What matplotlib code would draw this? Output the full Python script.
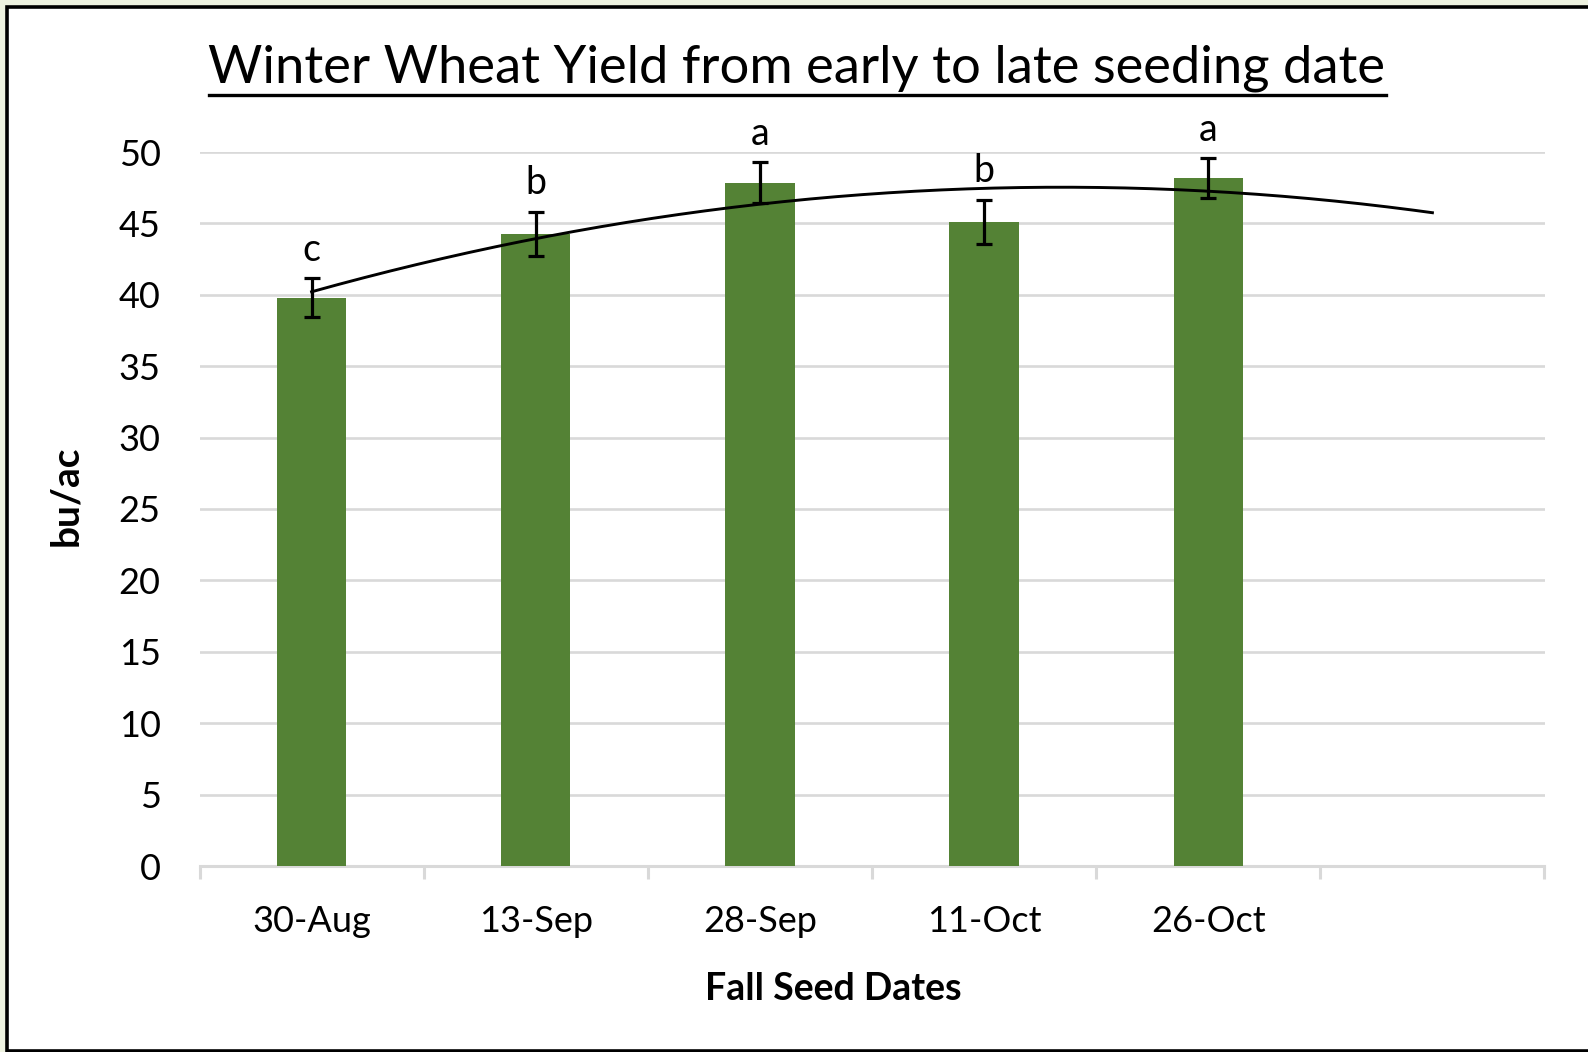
import numpy as np
import matplotlib
matplotlib.use("Agg")
import matplotlib.pyplot as plt
from matplotlib.patches import Rectangle
from matplotlib.lines import Line2D

# ---- data ----
categories = ["30-Aug", "13-Sep", "28-Sep", "11-Oct", "26-Oct", ""]
yields = [39.8, 44.25, 47.86, 45.12, 48.17]
errors = [1.37, 1.56, 1.43, 1.53, 1.40]
letters = ["c", "b", "a", "b", "a"]
y_ticks = [0, 5, 10, 15, 20, 25, 30, 35, 40, 45, 50]

FONT = "Lato"
GRID = "#d9d9d9"
BAR = "#548235"

fig = plt.figure(figsize=(15.88, 10.52), dpi=100)
fig.patch.set_facecolor("white")

# outer background strip + black frame
fig.add_artist(Rectangle((0, 0), 1, 1, transform=fig.transFigure,
                         facecolor="#eef2e0", edgecolor="none", zorder=-10))
fig.add_artist(Rectangle((7 / 1588, 1 / 1052), 1.0, 1 - 7 / 1052 - 1 / 1052,
                         transform=fig.transFigure, facecolor="white",
                         edgecolor="black", linewidth=2.6, zorder=-9))

ax = fig.add_axes([199.5 / 1588, 1 - 866 / 1052, (1544.5 - 199.5) / 1588,
                   (866 - 152) / 1052])
ax.set_facecolor("none")

n = len(categories)
x = np.arange(n)
xb = x[:len(yields)]

ax.bar(xb, yields, width=0.31, color=BAR, zorder=3)
ax.errorbar(xb, yields, yerr=errors, fmt="none", ecolor="black",
            elinewidth=2.3, capsize=5.8, capthick=2.3, zorder=5)

# polynomial (order 2) trendline, forecast forward one period
coef = np.polyfit(xb, yields, 2)
xt = np.linspace(0, n - 1, 300)
ax.plot(xt, np.polyval(coef, xt), color="black", linewidth=2.1, zorder=4)

for xi, yi, ei, lt in zip(xb, yields, errors, letters):
    ax.text(xi, yi + ei + 2.0, lt, ha="center", va="center",
            fontsize=27, family=FONT, color="black", zorder=6)

ax.set_xlim(-0.5, n - 0.5)
ax.set_ylim(0, 50)
ax.set_yticks(y_ticks)
ax.set_yticklabels([str(v) for v in y_ticks], fontsize=26, family=FONT)
ax.set_xticks(x)
ax.set_xticklabels(categories, fontsize=26, family=FONT)
ax.set_xticks(np.arange(-0.5, n, 1.0), minor=True)
ax.tick_params(axis="x", which="major", length=0, pad=28)
ax.tick_params(axis="x", which="minor", length=9, width=2.2, color=GRID)
ax.tick_params(axis="y", length=0, pad=28)

ax.grid(axis="y", color=GRID, linewidth=1.9, zorder=0)
ax.set_axisbelow(True)
for s in ["top", "right", "left"]:
    ax.spines[s].set_visible(False)
ax.spines["bottom"].set_color(GRID)
ax.spines["bottom"].set_linewidth(2.2)
ax.spines["bottom"].set_zorder(2)

fig.text(833 / 1588, 1 - 989 / 1052, "Fall Seed Dates", ha="center",
         va="center", fontsize=27, fontweight="bold", family=FONT)
fig.text(66 / 1588, 1 - 496 / 1052, "bu/ac", ha="center", va="center",
         rotation=90, fontsize=28, fontweight="bold", family=FONT)

title = fig.text(797 / 1588, 1 - 68 / 1052,
                 "Winter Wheat Yield from early to late seeding date",
                 ha="center", va="center", fontsize=37.8, family=FONT)
fig.canvas.draw()
bb = title.get_window_extent()
fig.add_artist(Line2D([bb.x0 / 1588, bb.x1 / 1588],
                      [1 - 95 / 1052, 1 - 95 / 1052],
                      transform=fig.transFigure, color="black", linewidth=2.4))

fig.savefig("out.png", dpi=100)
